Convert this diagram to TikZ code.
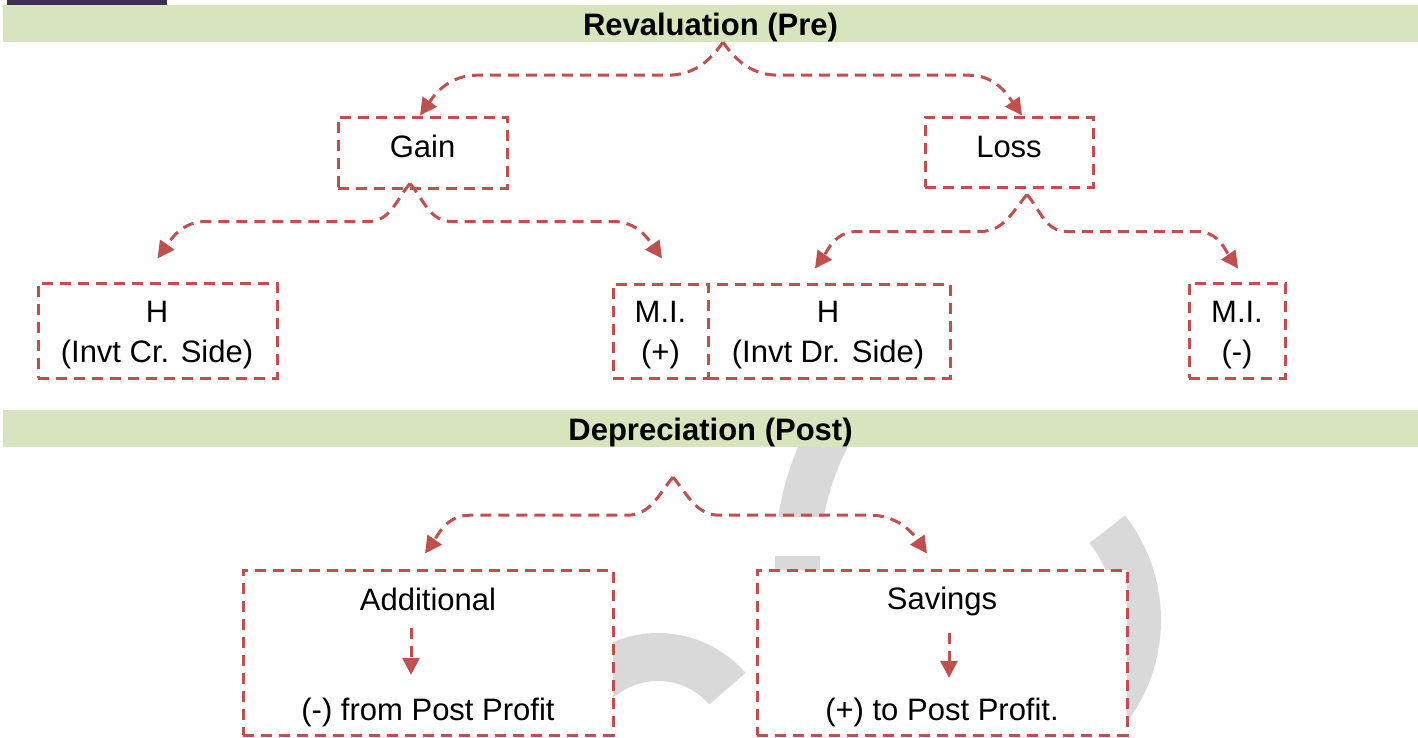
\documentclass[tikz,border=0pt]{standalone}
\usepackage{fontspec}
\setmainfont{Liberation Sans}
\usetikzlibrary{arrows.meta}
\definecolor{cred}{HTML}{C0504D}
\definecolor{cgreen}{HTML}{D7E4BD}
\definecolor{cbar}{HTML}{3F3151}
\definecolor{cwm}{HTML}{D9D9D9}
\begin{document}
\begin{tikzpicture}[x=1pt,y=1pt,
  conn/.style={draw=cred, line width=3pt, dash pattern=on 11pt off 7pt, -{Triangle[length=17pt,width=17pt]}},
  box/.style={draw=cred, line width=3pt, dash pattern=on 11pt off 7pt, fill=white, inner sep=0pt},
  band/.style={fill=cgreen, inner sep=0pt, minimum height=37pt, minimum width=1415pt, text height=26pt, text depth=2pt, font=\bfseries\fontsize{31}{40}\selectfont},
  txt/.style={inner sep=0pt, align=center, font=\fontsize{31}{40}\selectfont},
  wm/.style={fill=cwm}]
\useasboundingbox (0,0) rectangle (1418,-737);

% watermark pieces
\begin{scope}
  \clip (700,-400) rectangle (900,-516);
  \fill[wm, shift={(1064,-560)}] (150:289) arc[start angle=150, end angle=186, radius=289] -- (186:244) arc[start angle=186, end angle=150, radius=244] -- cycle;
\end{scope}
\begin{scope}
  \clip (700,-556) rectangle (900,-620);
  \fill[wm, shift={(1064,-560)}] (150:289) arc[start angle=150, end angle=186, radius=289] -- (186:244) arc[start angle=186, end angle=150, radius=244] -- cycle;
\end{scope}
\fill[wm, shift={(991,-620)}] (38:170) arc[start angle=38, end angle=-40, radius=170] -- (-40:125) arc[start angle=-40, end angle=38, radius=125] -- cycle;
\fill[wm, shift={(658,-749)}] (41:116) arc[start angle=41, end angle=140, radius=116] -- (140:68) arc[start angle=140, end angle=41, radius=68] -- cycle;

% top-left bar
\fill[cbar] (7,0) rectangle (167,-5);

% bands
\node[band] (rev) at (710.5,-23.5) {Revaluation (Pre)};
\node[band] (dep) at (710.5,-428.5) {Depreciation (Post)};

% boxes
\node[box, minimum width=169pt, minimum height=71pt] (gain) at (422.5,-152.5) {};
\node[box, minimum width=168pt, minimum height=70pt] (loss) at (1009,-152) {};
\node[box, minimum width=239pt, minimum height=95pt] (hcr) at (157.5,-330.5) {};
\node[box, minimum width=95pt, minimum height=94pt] (mip) at (660.5,-331) {};
\node[box, minimum width=242pt, minimum height=94pt] (hdr) at (829,-331) {};
\node[box, minimum width=96pt, minimum height=95pt] (mim) at (1237,-330.5) {};
\node[box, minimum width=370pt, minimum height=165pt] (add) at (428,-652.5) {};
\node[box, minimum width=370pt, minimum height=165pt] (sav) at (942,-652.5) {};

% texts
\node[txt] (gainL) at (422.5,-146.8) {Gain};
\node[txt] (lossL) at (1009,-146.5) {Loss};
\node[txt] (hcrL) at (157,-335) {H\\(Invt Cr. Side)};
\node[txt] (mipL) at (660.5,-335) {M.I.\\(+)};
\node[txt] (hdrL) at (828,-335) {H\\(Invt Dr. Side)};
\node[txt] (mimL) at (1237,-335) {M.I.\\(-)};
\node[txt] (addT) at (428,-599.5) {Additional};
\node[txt] (addB) at (428,-712.5) {(-) from Post Profit};
\node[txt] (savT) at (942,-601.7) {Savings};
\node[txt] (savB) at (942,-712.5) {(+) to Post Profit.};

% connector ends
\coordinate (s1) at ([xshift=12.5pt]rev.south);
\coordinate (t1a) at ([xshift=-2.5pt]gain.north);
\coordinate (t1b) at ([xshift=13pt]loss.north);
\coordinate (s2) at ([xshift=-12.5pt,yshift=6pt]gain.south);
\coordinate (t2a) at ([yshift=23pt]hcr.north);
\coordinate (t2b) at ([xshift=1.5pt,yshift=24pt]mip.north);
\coordinate (s3) at ([xshift=18pt,yshift=-6pt]loss.south);
\coordinate (t3a) at ([xshift=-14pt,yshift=14pt]hdr.north);
\coordinate (t3b) at ([xshift=1pt,yshift=13pt]mim.north);
\coordinate (s4) at ([xshift=-37.5pt,yshift=-30pt]dep.south);
\coordinate (t4a) at ([xshift=-3pt,yshift=15pt]add.north);
\coordinate (t4b) at ([xshift=-15pt,yshift=15pt]sav.north);

% connectors
\draw[conn] (s1) to[out=-125,in=0] ++(-56,-33) -- ++(-190,0) to[out=180,in=55] (t1a);
\draw[conn] (s1) to[out=-55,in=180] ++(56,-33) -- ++(190,0) to[out=0,in=125] (t1b);
\draw[conn] (s2) to[out=-130,in=0] ++(-42,-38) -- ++(-162,0) to[out=180,in=55] (t2a);
\draw[conn] (s2) to[out=-50,in=180] ++(42,-38) -- ++(161,0) to[out=0,in=125] (t2b);
\draw[conn] (s3) to[out=-130,in=0] ++(-47,-37) -- ++(-123,0) to[out=180,in=55] (t3a);
\draw[conn] (s3) to[out=-50,in=180] ++(40,-37) -- ++(130,0) to[out=0,in=125] (t3b);
\draw[conn] (s4) to[out=-130,in=0] ++(-46,-38) -- ++(-157,0) to[out=180,in=55] (t4a);
\draw[conn] (s4) to[out=-50,in=180] ++(47,-38) -- ++(150,0) to[out=0,in=125] (t4b);

\draw[conn, shorten <=17pt, shorten >=23pt] ([xshift=-17pt]addT.south) -- ([xshift=-17pt]addB.north);
\draw[conn, shorten <=17pt, shorten >=20pt] ([xshift=7pt]savT.south) -- ([xshift=7pt]savB.north);
\end{tikzpicture}
\end{document}
